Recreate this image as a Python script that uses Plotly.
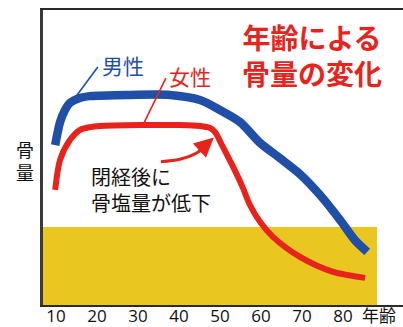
import plotly.graph_objects as go

# ---- data (age in years, bone mass index 0-100) ----
male_age = [9.8, 11.0, 12.2, 13.4, 15.8, 18.3, 28.0, 37.8, 45.1, 50.0, 54.9, 59.8, 64.6, 69.5, 74.4, 79.3, 82.9, 85.9]
male_val = [54.2, 62.0, 66.1, 68.5, 70.2, 70.8, 71.2, 71.2, 69.5, 66.1, 62.0, 54.9, 49.8, 44.4, 37.3, 28.8, 22.0, 18.0]

female_age = [9.8, 11.0, 13.4, 15.8, 18.3, 20.7, 30.5, 40.2, 45.1, 47.6, 48.8, 50.7, 53.2, 55.4, 57.3, 59.8, 62.9, 69.5, 77.6, 85.4]
female_val = [39.0, 49.2, 55.9, 59.3, 60.3, 60.7, 61.0, 61.0, 60.7, 60.0, 58.6, 53.6, 46.8, 40.3, 33.9, 28.1, 23.1, 16.3, 11.2, 9.2]

band_age = [6.83, 88.3]
band_top = [26.4, 26.4]

male_leader_age = [14.6, 20.2]
male_leader_val = [70.2, 80.7]
female_leader_age = [31.2, 36.8]
female_leader_val = [61.0, 76.9]

arrow_age = [35.6, 40.2, 44.4, 47.0]
arrow_val = [48.6, 49.4, 51.6, 54.5]
arrow_head = (48.5, 56.8)

tick_vals = [10, 20, 30, 40, 50, 60, 70, 80]
tick_text = ["10", "20", "30", "40", "50", "60", "70", "80"]

BLUE = "#1f4fa6"
RED = "#e8231c"
YELLOW = "#e9c620"
CJK = "Noto Sans CJK JP"

fig = go.Figure()

fig.add_trace(go.Scatter(x=band_age, y=band_top, mode="none", fill="tozeroy",
                         fillcolor=YELLOW, hoverinfo="skip", showlegend=False))

fig.add_trace(go.Scatter(x=male_age, y=male_val, mode="lines",
                         line=dict(color=BLUE, width=8.5, shape="spline", smoothing=0.8),
                         showlegend=False))
fig.add_trace(go.Scatter(x=female_age, y=female_val, mode="lines",
                         line=dict(color=RED, width=6, shape="spline", smoothing=0.8),
                         showlegend=False))

fig.add_trace(go.Scatter(x=male_leader_age, y=male_leader_val, mode="lines",
                         line=dict(color=BLUE, width=1.6), showlegend=False))
fig.add_trace(go.Scatter(x=female_leader_age, y=female_leader_val, mode="lines",
                         line=dict(color=RED, width=1.6), showlegend=False))

fig.add_trace(go.Scatter(x=arrow_age, y=arrow_val, mode="lines",
                         line=dict(color=RED, width=3, shape="spline"), showlegend=False))

def px(xp):
    return (xp - 43) / 360.0

def py(yp):
    return (305 - yp) / 295.0

def label(xp, yp, text, size, color, xanchor="center", align="center"):
    return dict(x=px(xp), y=py(yp), xref="paper", yref="paper", text=text,
                xanchor=xanchor, yanchor="middle", align=align, showarrow=False,
                font=dict(family=CJK, size=size, color=color))

annotations = [
    dict(x=arrow_head[0], y=arrow_head[1], ax=arrow_age[-2], ay=arrow_val[-2],
         xref="x", yref="y", axref="x", ayref="y", showarrow=True,
         arrowhead=2, arrowsize=1.3, arrowwidth=3, arrowcolor=RED, text=""),
    label(312, 55, "<b>年齢による</b><br><b>骨量の変化</b>", 28, RED),
    label(123, 65, "男性", 21, BLUE),
    label(190, 76, "女性", 21, RED),
    label(89, 190, "閉経後に<br>骨塩量が低下", 20, "#111", "left", "left"),
    label(25, 161, "骨<br>量", 18, "#111"),
    label(379, 314, "年齢", 17, "#111"),
]

fig.update_layout(
    width=403, height=327,
    margin=dict(l=43, r=0, t=10, b=22),
    paper_bgcolor="white", plot_bgcolor="white",
    showlegend=False,
    annotations=annotations,
    xaxis=dict(range=[6.83, 94.63], tickvals=tick_vals, ticktext=tick_text,
               showgrid=False, zeroline=False, showline=True, mirror=True,
               linecolor="#2a2a2a", linewidth=2, ticks="", automargin=False,
               ticklabelstandoff=-5,
               tickfont=dict(family="Open Sans", size=17, color="#111")),
    yaxis=dict(range=[0, 100], showgrid=False, zeroline=False, showline=True,
               linecolor="#3a3a3a", linewidth=3, showticklabels=False, ticks="",
               automargin=False),
)

fig.write_html("out.html")
